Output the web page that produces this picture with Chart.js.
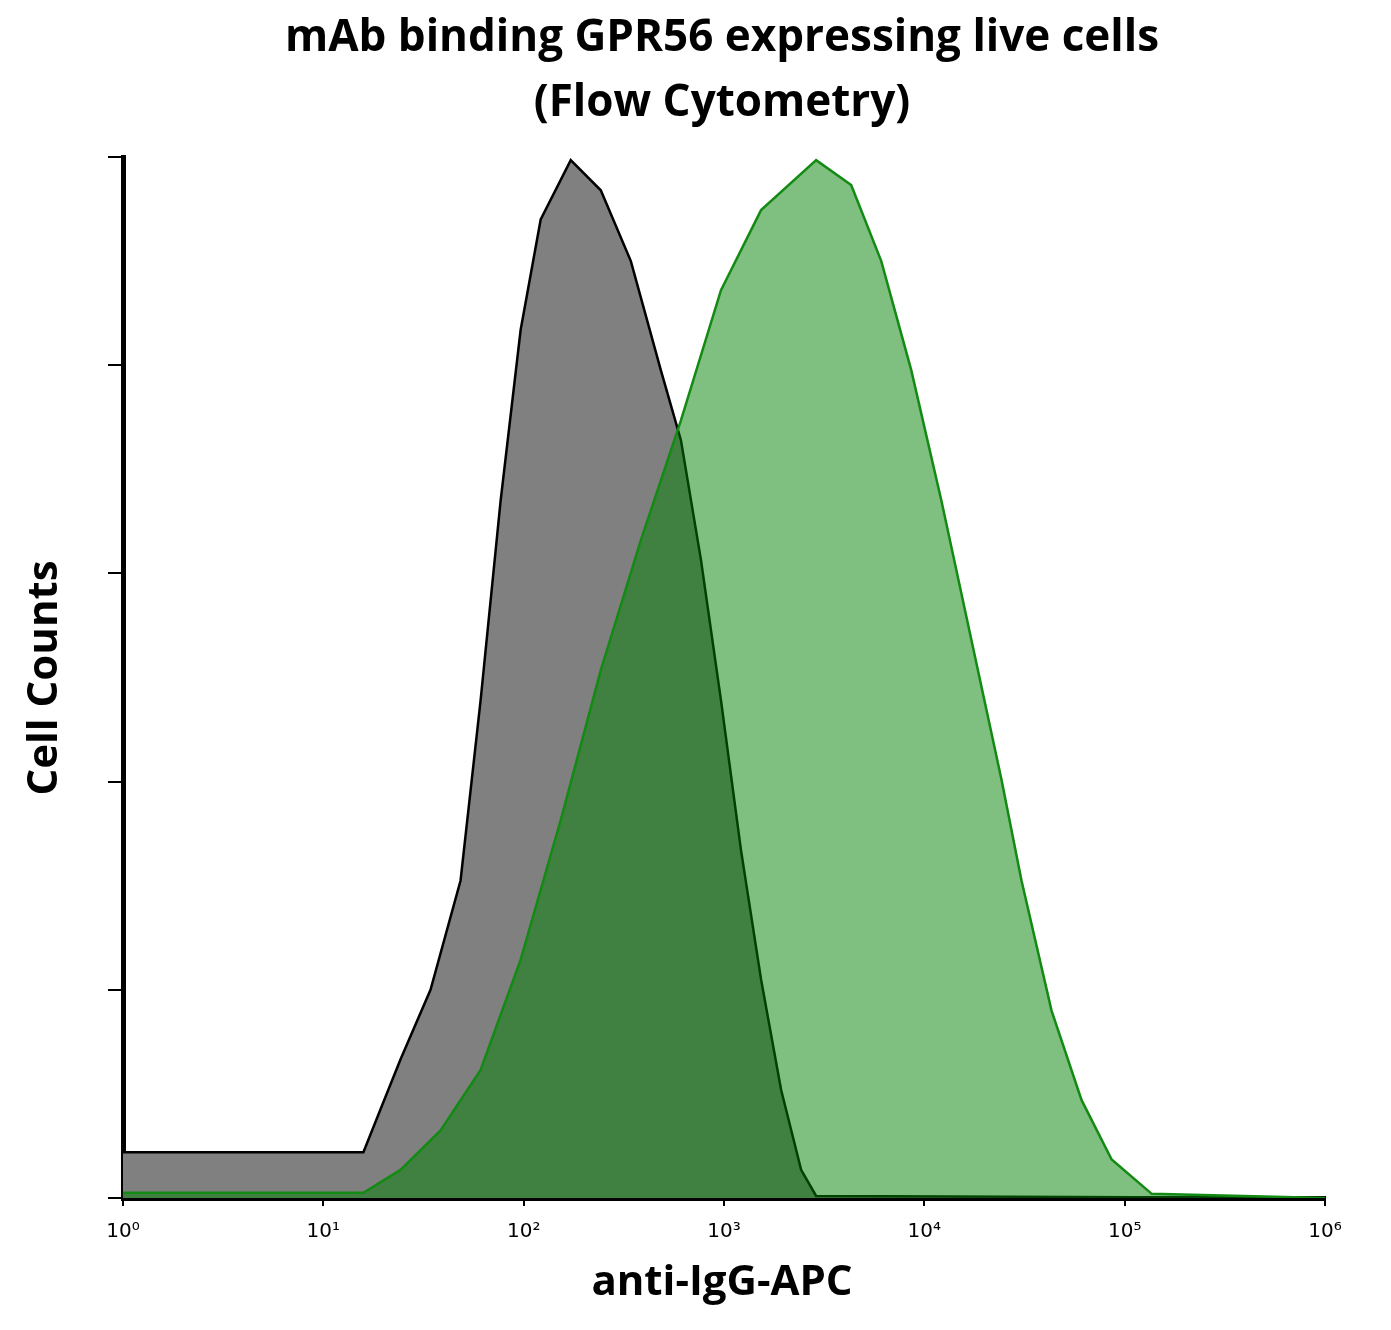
<!DOCTYPE html>
<html><head><meta charset="utf-8">
<script src="https://cdn.jsdelivr.net/npm/chart.js@4"></script>
<style>html,body{margin:0;padding:0;background:#fff}#w{width:1391px;height:1330px}</style>
</head><body><div id="w"><canvas id="c" width="1391" height="1330"></canvas></div>
<script>
// log10 fluorescence positions and relative cell counts (% of max)
const isoLog   = [0,1.2,1.285,1.385,1.535,1.685,1.785,1.885,1.985,2.085,2.235,2.385,2.535,2.685,2.785,2.885,2.985,3.085,3.185,3.285,3.385,3.46,6];
const isoCount = [4.4,4.4,8.5,13.3,20,30.5,47.8,67,83.4,94,99.7,96.8,90,79.5,72.8,61.3,47.8,33.4,21,10.4,2.7,0.2,0];
const mabLog   = [0,1.2,1.385,1.585,1.785,1.985,2.185,2.385,2.585,2.785,2.985,3.185,3.46,3.635,3.785,3.935,4.085,4.235,4.385,4.485,4.635,4.785,4.935,5.135,6];
const mabCount = [0.5,0.5,2.7,6.5,12.3,22.9,36.3,50.7,63.2,74.7,87.2,94.9,99.7,97.3,90,79.5,67,53.6,40.2,30.5,18,9.4,3.7,0.4,0];
const tickLabels = ['10\u2070','10\u00b9','10\u00b2','10\u00b3','10\u2074','10\u2075','10\u2076'];
const titleLines = ['mAb binding GPR56 expressing live cells','(Flow Cytometry)'];

const pts=(l,c)=>l.map((v,i)=>({x:Math.pow(10,v),y:c[i]}));
const textPlugin={id:'txt',afterDraw(ch){
  const g=ch.ctx;g.save();g.fillStyle='#000';g.textAlign='center';g.textBaseline='middle';
  g.font='bold 44px "Open Sans"';
  g.fillText(titleLines[0],722,38);g.fillText(titleLines[1],722,103);
  g.font='bold 42px "Open Sans"';g.fillText('anti-IgG-APC',722,1283);
  g.translate(45,678);g.rotate(-Math.PI/2);g.fillText('Cell Counts',0,0);
  g.restore();}};
new Chart(document.getElementById('c'),{
  type:'scatter',
  data:{datasets:[
    {data:pts(isoLog,isoCount),showLine:true,fill:'origin',backgroundColor:'rgb(128,128,128)',borderColor:'#000',borderWidth:2.5,pointRadius:0,tension:0,order:2},
    {data:pts(mabLog,mabCount),showLine:true,fill:'origin',backgroundColor:'rgba(0,128,0,0.5)',borderColor:'#138a13',borderWidth:2.5,pointRadius:0,tension:0,order:1}
  ]},
  options:{responsive:false,animation:false,
    layout:{padding:{top:157,right:66,left:0,bottom:0}},
    plugins:{legend:{display:false},tooltip:{enabled:false}},
    scales:{
      x:{type:'logarithmic',min:1,max:1e6,
        afterBuildTicks(s){s.ticks=[0,1,2,3,4,5,6].map(i=>({value:Math.pow(10,i)}));},
        afterFit(s){s.height=132;},
        ticks:{callback:(v)=>tickLabels[Math.round(Math.log10(v))],font:{family:'DejaVu Sans',size:20},color:'#000',maxRotation:0,padding:14,autoSkip:false},
        grid:{drawOnChartArea:false,drawTicks:true,tickLength:8,color:'#000',lineWidth:2},
        border:{color:'#000',width:5}},
      y:{min:0,max:100,
        afterBuildTicks(s){s.ticks=[0,20,40,60,80,100].map(v=>({value:v}));},
        afterFit(s){s.width=123;},
        ticks:{callback:()=>'',display:true},
        grid:{drawOnChartArea:false,drawTicks:true,tickLength:15,color:'#000',lineWidth:2},
        border:{color:'#000',width:5}}
    }},
  plugins:[textPlugin]
});
</script></body></html>
